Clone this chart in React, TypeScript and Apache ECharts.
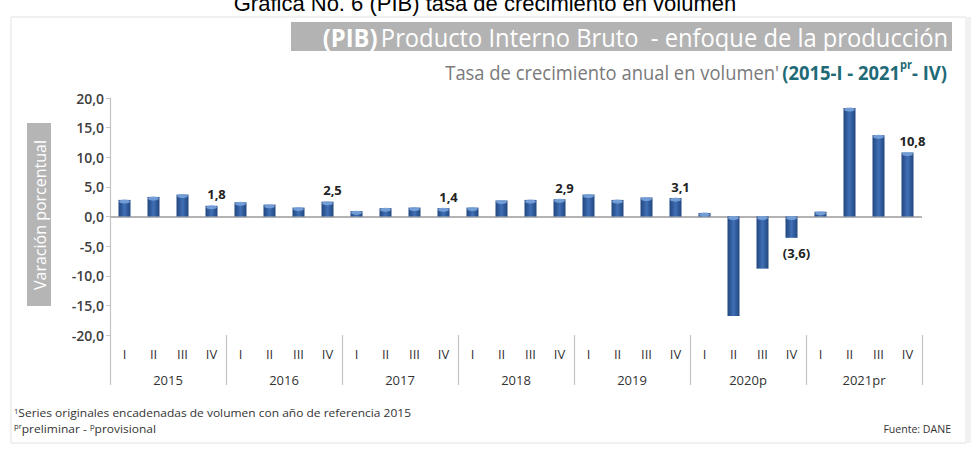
import React, { useEffect, useRef } from "react";
import * as echarts from "echarts";

const years = ["2015", "2016", "2017", "2018", "2019", "2020p", "2021pr"];
const quarterLabels = ["I", "II", "III", "IV"];
const growth = [
  2.8, 3.3, 3.7, 1.8,
  2.4, 2.0, 1.5, 2.5,
  0.9, 1.4, 1.5, 1.4,
  1.5, 2.7, 2.8, 2.9,
  3.7, 2.8, 3.2, 3.1,
  0.6, -16.8, -8.8, -3.6,
  0.8, 18.3, 13.7, 10.8,
];
const yTicks = { min: -20, max: 20, interval: 5 };

const titleText = "Gráfica No. 6 (PIB) tasa de crecimiento en volumen";
const yName = "Varación porcentual";

const fmt = (v: number) => {
  const s = Math.abs(v).toFixed(1).replace(".", ",");
  return v < 0 ? `(${s})` : s;
};

export default function App() {
  const ref = useRef<HTMLDivElement>(null);
  useEffect(() => {
    if (!ref.current) return;
    const chart = echarts.init(ref.current, null, { renderer: "svg" });
    const categories = years.flatMap(() => quarterLabels);
    const barColor = new echarts.graphic.LinearGradient(0, 0, 1, 0, [
      { offset: 0, color: "#21467f" },
      { offset: 0.5, color: "#3f6fb4" },
      { offset: 1, color: "#21467f" },
    ]);
    const barData = growth.map((v, i) => ({
      value: v,
      label: {
        show: i % 4 === 3,
        position: v < 0 ? "bottom" : "top",
        distance: v < 0 ? 9 : 5,
        offset: [5, 0],
      },
    }));
    const capData = growth.map((v) => Math.max(v, 0));
    const font = "'Open Sans', sans-serif";

    chart.setOption({
      animation: false,
      backgroundColor: "#ffffff",
      textStyle: { fontFamily: font },
      grid: { left: 110, right: 49, top: 98, bottom: 117, containLabel: false },
      xAxis: [
        {
          type: "category",
          data: categories,
          position: "bottom",
          axisLine: { show: false, onZero: false },
          axisTick: { show: false },
          axisLabel: { interval: 0, margin: 12, color: "#333", fontSize: 13, fontFamily: font },
        },
        {
          type: "category",
          data: years,
          position: "bottom",
          axisLine: { show: false, onZero: false },
          axisTick: {
            show: true,
            interval: 0,
            length: 50,
            alignWithLabel: false,
            lineStyle: { color: "#c4c4c4", width: 1.2 },
          },
          axisLabel: { interval: 0, margin: 38, color: "#333", fontSize: 13, fontFamily: font },
        },
      ],
      yAxis: {
        type: "value",
        min: yTicks.min,
        max: yTicks.max,
        interval: yTicks.interval,
        axisLine: { show: true, lineStyle: { color: "#c4c4c4", width: 1.2 } },
        axisTick: { show: true, length: 4, lineStyle: { color: "#c4c4c4" } },
        splitLine: { show: false },
        axisLabel: {
          margin: 6,
          color: "#404040",
          fontSize: 14,
          fontWeight: 600,
          fontFamily: font,
          formatter: (v: number) => v.toFixed(1).replace(".", ","),
        },
      },
      series: [
        {
          type: "bar",
          xAxisIndex: 0,
          data: barData,
          barWidth: 12,
          itemStyle: { color: barColor },
          label: {
            color: "#222",
            fontSize: 13,
            fontWeight: 700,
            fontFamily: font,
            formatter: (p: any) => fmt(p.value),
          },
          markLine: {
            silent: true,
            symbol: ["none", "none"],
            label: { show: false },
            lineStyle: { color: "#b3b3b3", width: 2, type: "solid" },
            data: [{ yAxis: 0 }],
            z: 1,
          },
          z: 2,
        },
        {
          type: "scatter",
          xAxisIndex: 0,
          data: capData,
          symbol: "circle",
          symbolSize: [11, 4],
          symbolOffset: [0, 1.5],
          itemStyle: { color: "#7aa3dc", opacity: 0.9 },
          silent: true,
          z: 3,
        },
      ],
      graphic: [
        {
          type: "rect",
          shape: { x: 11, y: 17, width: 955, height: 426 },
          style: { fill: "#ffffff", stroke: "#e2e2e2", lineWidth: 1 },
          z: -10,
          silent: true,
        },
        {
          type: "rect",
          shape: { x: 967, y: 17, width: 4, height: 426 },
          style: { fill: "#f1f1f1" },
          z: -10,
          silent: true,
        },
        {
          type: "text",
          x: 485,
          y: 3,
          style: {
            text: titleText,
            fontFamily: "'Liberation Sans', Arial, sans-serif",
            fontSize: 22,
            fill: "#000",
            align: "center",
            verticalAlign: "middle",
          },
          z: 10,
        },
        {
          type: "rect",
          shape: { x: 291, y: 22, width: 661, height: 29 },
          style: { fill: "#b3b3b3" },
          z: 5,
        },
        {
          type: "text",
          x: 948,
          y: 37,
          scaleX: 0.95,
          style: {
            text: "{b|(PIB)} {n|Producto Interno Bruto  - enfoque de la producción}",
            align: "right",
            verticalAlign: "middle",
            rich: {
              b: { fontFamily: font, fontSize: 25, fontWeight: 700, fill: "#ffffff" },
              n: { fontFamily: font, fontSize: 25, fill: "#ffffff" },
            },
          },
          z: 6,
        },
        {
          type: "text",
          x: 947,
          y: 70,
          scaleX: 0.92,
          style: {
            text: "{g|Tasa de crecimiento anual en volumen'} {t|(2015-I - 2021}{s|pr}{t|- IV)}",
            align: "right",
            verticalAlign: "middle",
            rich: {
              g: { fontFamily: font, fontSize: 20, fill: "#7a7a7a", lineHeight: 24, verticalAlign: "bottom" },
              t: { fontFamily: font, fontSize: 20, fontWeight: 700, fill: "#1e6a76", lineHeight: 24, verticalAlign: "bottom" },
              s: { fontFamily: font, fontSize: 12, fontWeight: 700, fill: "#1e6a76", lineHeight: 24, verticalAlign: "top" },
            },
          },
          z: 6,
        },
        {
          type: "rect",
          shape: { x: 27, y: 123, width: 24, height: 183 },
          style: { fill: "#b5b5b5" },
          z: 5,
        },
        {
          type: "text",
          x: 39.5,
          y: 215,
          rotation: Math.PI / 2,
          style: {
            text: yName,
            fontFamily: font,
            fontSize: 16,
            fill: "#ffffff",
            align: "center",
            verticalAlign: "middle",
          },
          z: 6,
        },
        {
          type: "text",
          x: 14,
          y: 413,
          scaleX: 1.09,
          style: {
            text: "{s|1}{m|Series originales encadenadas de volumen con año de referencia 2015}",
            verticalAlign: "middle",
            rich: {
              s: { fontFamily: font, fontSize: 7, fill: "#333", verticalAlign: "top", lineHeight: 11 },
              m: { fontFamily: font, fontSize: 11, fill: "#333", lineHeight: 11 },
            },
            lineHeight: 11,
          },
          z: 6,
        },
        {
          type: "text",
          x: 14,
          y: 428.5,
          scaleX: 1.09,
          style: {
            text: "{s|pr}{m|preliminar - }{s|p}{m|provisional}",
            verticalAlign: "middle",
            rich: {
              s: { fontFamily: font, fontSize: 7, fill: "#333", verticalAlign: "top", lineHeight: 11 },
              m: { fontFamily: font, fontSize: 11, fill: "#333", lineHeight: 11 },
            },
            lineHeight: 11,
          },
          z: 6,
        },
        {
          type: "text",
          x: 951,
          y: 428.5,
          scaleX: 0.96,
          style: {
            text: "Fuente: DANE",
            align: "right",
            verticalAlign: "middle",
            fontFamily: font,
            fontSize: 11,
            fill: "#333",
          },
          z: 6,
        },
      ],
    });
    return () => chart.dispose();
  }, []);
  return (
    <div
      ref={ref}
      style={{ position: "fixed", left: 0, top: 0, width: 971, height: 452 }}
    />
  );
}
